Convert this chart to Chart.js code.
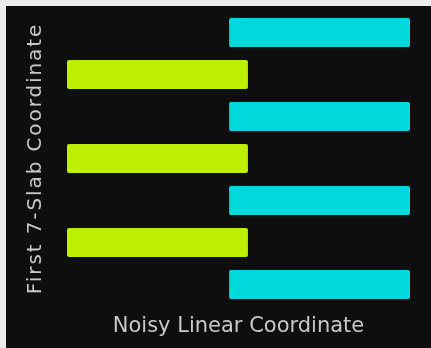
<!DOCTYPE html>
<html>
<head>
<meta charset="utf-8">
<script src="https://cdn.jsdelivr.net/npm/chart.js@4"></script>
<style>
  html, body { margin: 0; padding: 0; background: #ececec; width: 431px; height: 348px; overflow: hidden; }
  #wrap { position: absolute; left: 6px; top: 6px; width: 425px; height: 342px; background: #0e0e0e; }
  canvas { display: block; }
</style>
</head>
<body>
<div id="wrap"><canvas id="c" width="425" height="342"></canvas></div>
<script>
// Slab categories (top to bottom)
const slabs = ["1", "2", "3", "4", "5", "6", "7"];
// Noisy linear coordinate extents of each slab, [start, end]
const cyanSlabs = [[-0.055, 1.0], null, [-0.055, 1.0], null, [-0.055, 1.0], null, [-0.055, 1.0]];
const limeSlabs = [null, [-1.0, 0.055], null, [-1.0, 0.055], null, [-1.0, 0.055], null];
const xRange = [-1, 1];
const xTitle = "Noisy Linear Coordinate";
const yTitle = "First 7-Slab Coordinate";

// the y title in the reference is drawn slightly wider-spaced than the x title
const spacingPlugin = {
  id: "titleSpacing",
  beforeDraw(chart) { chart.ctx.letterSpacing = "1.9px"; },
  beforeDatasetsDraw(chart) { chart.ctx.letterSpacing = "0px"; }
};

new Chart(document.getElementById("c"), {
  type: "bar",
  data: {
    labels: slabs,
    datasets: [
      { label: "cyan", data: cyanSlabs, backgroundColor: "#00d8dc", borderWidth: 0, borderRadius: 2, borderSkipped: false },
      { label: "lime", data: limeSlabs, backgroundColor: "#bdf000", borderWidth: 0, borderRadius: 2, borderSkipped: false }
    ]
  },
  plugins: [spacingPlugin],
  options: {
    indexAxis: "y",
    responsive: false,
    animation: false,
    grouped: false,
    categoryPercentage: 1,
    barPercentage: 0.69,
    layout: { padding: { left: 13.5, right: 21, top: 5.5, bottom: 0 } },
    plugins: { legend: { display: false }, tooltip: { enabled: false } },
    scales: {
      x: {
        min: xRange[0], max: xRange[1],
        ticks: { display: false, z: 1 },
        grid: { display: false, drawTicks: false, z: 1 },
        border: { display: false, z: 1 },
        title: { display: true, text: xTitle, color: "#c8c8c8",
                 font: { family: "DejaVu Sans", size: 21 }, padding: { top: 8.7, bottom: 8.6 } }
      },
      y: {
        offset: true,
        ticks: { display: false },
        grid: { display: false, drawTicks: false },
        border: { display: false },
        title: { display: true, text: yTitle, color: "#c8c8c8",
                 font: { family: "DejaVu Sans", size: 20 }, padding: { top: 4, bottom: 19.5 } }
      }
    }
  }
});
</script>
</body>
</html>
